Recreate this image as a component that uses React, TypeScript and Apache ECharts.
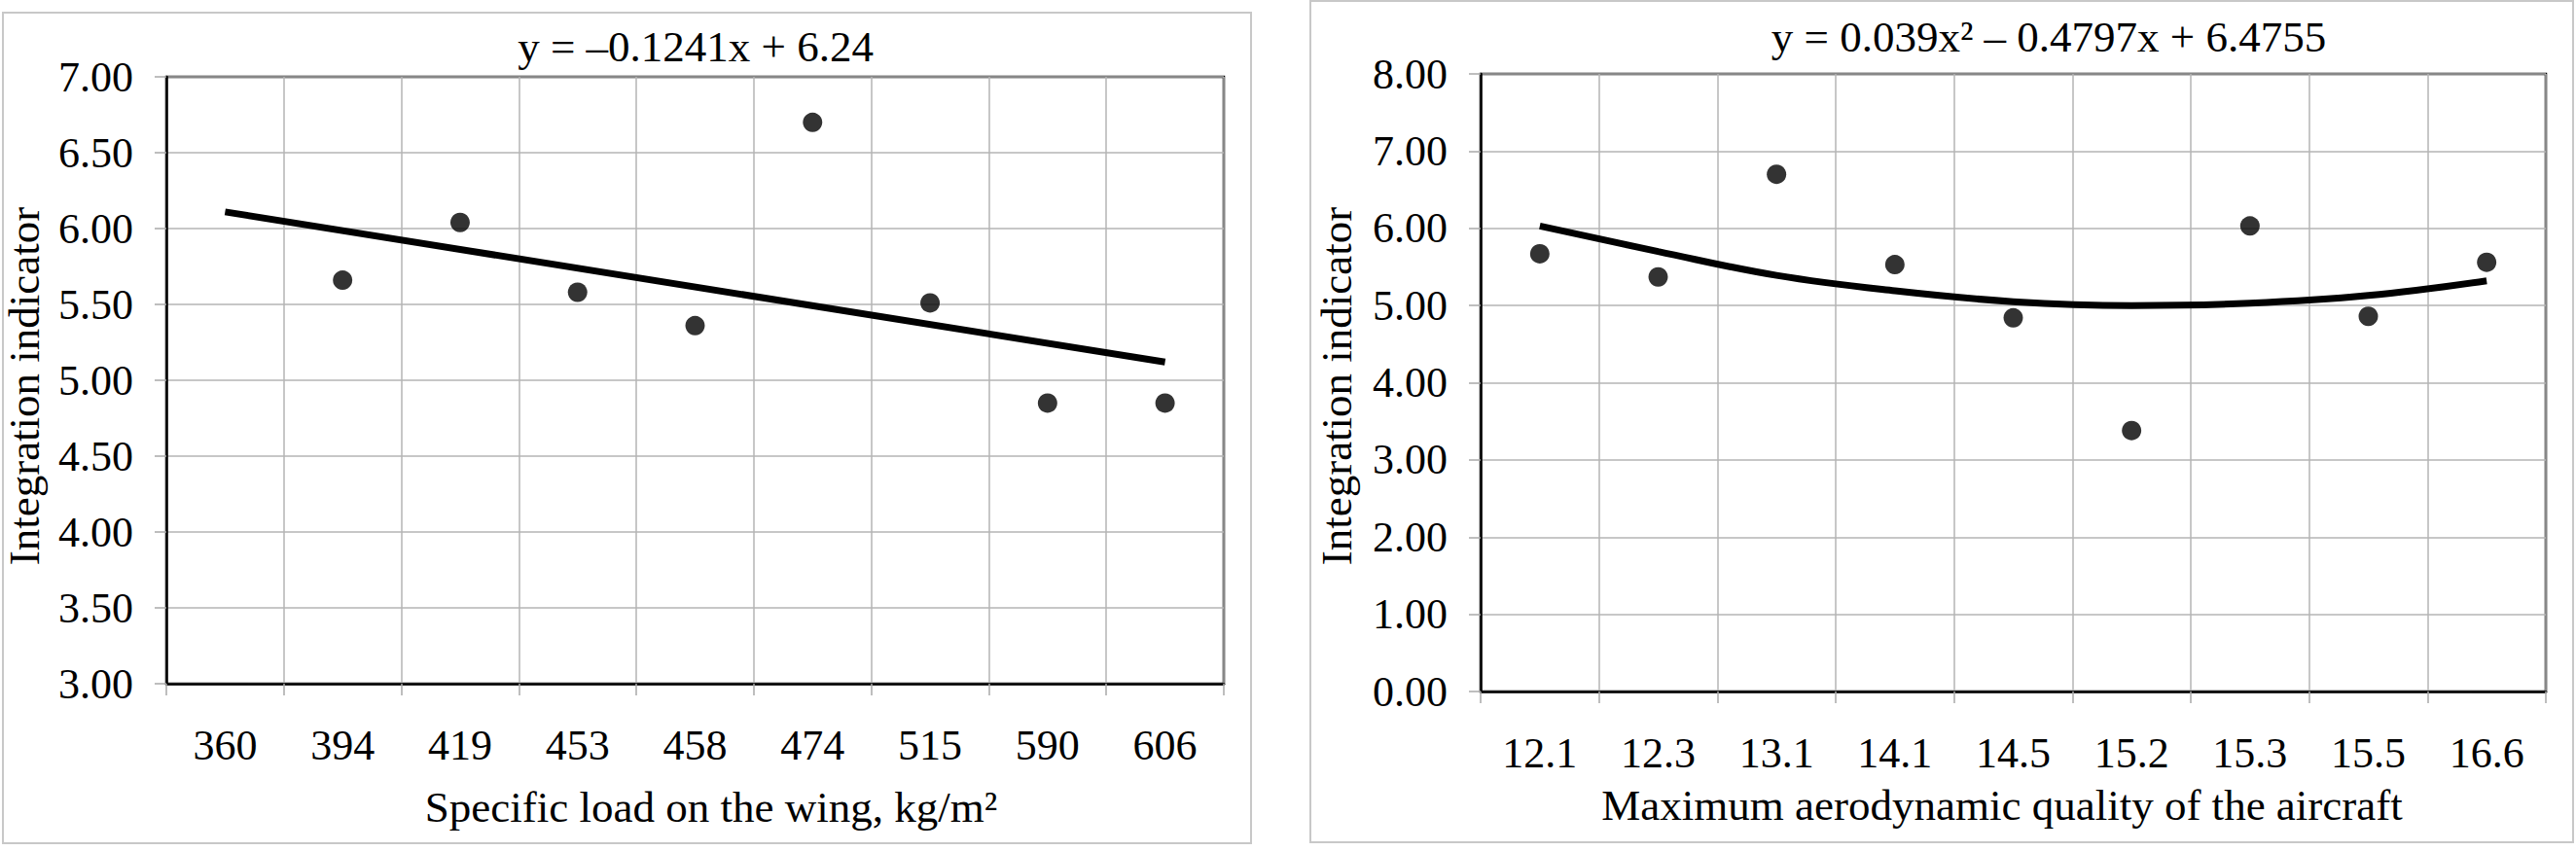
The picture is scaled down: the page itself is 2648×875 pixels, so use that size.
import React, { useEffect, useRef } from 'react';
import * as echarts from 'echarts';

const leftCategories = ['360', '394', '419', '453', '458', '474', '515', '590', '606'];
const leftValues = [null, 5.66, 6.04, 5.58, 5.36, 6.7, 5.51, 4.85, 4.85];
const leftTrend = [6.11, null, null, null, null, null, null, null, 5.12];
const leftTitle = 'y = –0.1241x + 6.24';
const leftXName = 'Specific load on the wing, kg/m²';

const rightCategories = ['12.1', '12.3', '13.1', '14.1', '14.5', '15.2', '15.3', '15.5', '16.6'];
const rightValues = [5.67, 5.37, 6.7, 5.53, 4.84, 3.38, 6.03, 4.86, 5.56];
const rightTrend = [6.03, 5.7, 5.39, 5.19, 5.05, 5.0, 5.03, 5.13, 5.32];
const rightTitle = 'y = 0.039x² – 0.4797x + 6.4755';
const rightXName = 'Maximum aerodynamic quality of the aircraft';

const yName = 'Integration indicator';

const FONT = '"Liberation Serif", "Times New Roman", serif';
const FS = 44;
const FS_NAME = 45;
const GRID_GRAY = '#b4b4b4';
const TICK_GRAY = '#a8a8a8';

function xAxisCfg(gridIndex: number, data: string[]) {
  return {
    type: 'category',
    gridIndex,
    data,
    boundaryGap: true,
    axisLine: { show: true, onZero: false, lineStyle: { color: '#000', width: 2.5 } },
    axisTick: { show: true, length: 12, lineStyle: { color: TICK_GRAY, width: 1.5 } },
    splitLine: { show: true, lineStyle: { color: GRID_GRAY, width: 1.5 } },
    axisLabel: { interval: 0, margin: 41, color: '#000', fontFamily: FONT, fontSize: FS },
  };
}

function yAxisCfg(gridIndex: number, min: number, max: number, interval: number) {
  return {
    type: 'value',
    gridIndex,
    min,
    max,
    interval,
    axisLine: { show: true, lineStyle: { color: '#000', width: 2.5 } },
    axisTick: { show: true, length: 12, lineStyle: { color: TICK_GRAY, width: 1.5 } },
    splitLine: { show: true, lineStyle: { color: GRID_GRAY, width: 1.5 } },
    axisLabel: {
      margin: 34,
      color: '#000',
      fontFamily: FONT,
      fontSize: FS,
      formatter: (v: number) => v.toFixed(2),
    },
  };
}

function txt(x: number, y: number, text: string, rotation = 0) {
  return {
    type: 'text',
    x,
    y,
    rotation,
    style: {
      text,
      fill: '#000',
      font: `${FS_NAME}px ${FONT}`,
      lineHeight: 42,
      align: 'center',
      verticalAlign: 'middle',
    },
    z: 10,
  };
}

export default function App() {
  const ref = useRef<HTMLDivElement>(null);

  useEffect(() => {
    if (!ref.current) return;
    const chart = echarts.init(ref.current, null, { renderer: 'svg', width: 2648, height: 875 });
    chart.setOption({
      animation: false,
      backgroundColor: '#fff',
      grid: [
        { left: 171, top: 79, width: 1087, height: 624, show: true, borderColor: '#000', borderWidth: 2.5, backgroundColor: 'transparent' },
        { left: 1522, top: 76, width: 1095, height: 635, show: true, borderColor: '#000', borderWidth: 2.5, backgroundColor: 'transparent' },
      ],
      xAxis: [xAxisCfg(0, leftCategories), xAxisCfg(1, rightCategories)],
      yAxis: [yAxisCfg(0, 3, 7, 0.5), yAxisCfg(1, 0, 8, 1)],
      series: [
        {
          type: 'line',
          xAxisIndex: 0,
          yAxisIndex: 0,
          data: leftTrend,
          connectNulls: true,
          symbol: 'none',
          lineStyle: { color: '#000', width: 7 },
          z: 3,
        },
        {
          type: 'scatter',
          xAxisIndex: 0,
          yAxisIndex: 0,
          data: leftValues,
          symbol: 'circle',
          symbolSize: 20,
          itemStyle: { color: '#000' },
          z: 4,
        },
        {
          type: 'line',
          xAxisIndex: 1,
          yAxisIndex: 1,
          data: rightTrend,
          smooth: 0.4,
          symbol: 'none',
          lineStyle: { color: '#000', width: 7 },
          z: 3,
        },
        {
          type: 'scatter',
          xAxisIndex: 1,
          yAxisIndex: 1,
          data: rightValues,
          symbol: 'circle',
          symbolSize: 20,
          itemStyle: { color: '#000' },
          z: 4,
        },
      ],
      graphic: [
        { type: 'rect', shape: { x: 3, y: 13, width: 1283, height: 854 }, style: { fill: 'none', stroke: '#c8c8c8', lineWidth: 2 }, z: 0 },
        { type: 'rect', shape: { x: 1347, y: 1, width: 1298, height: 865 }, style: { fill: 'none', stroke: '#c8c8c8', lineWidth: 2 }, z: 0 },
        txt(715, 48, leftTitle),
        txt(2106, 38, rightTitle),
        txt(731, 830, leftXName),
        txt(2058, 828, rightXName),
        txt(25, 397, yName, Math.PI / 2),
        txt(1374, 397, yName, Math.PI / 2),
      ],
    });
    return () => chart.dispose();
  }, []);

  return (
    <div
      ref={ref}
      style={{ position: 'fixed', left: 0, top: 0, width: 2648, height: 875, background: '#fff' }}
    />
  );
}
